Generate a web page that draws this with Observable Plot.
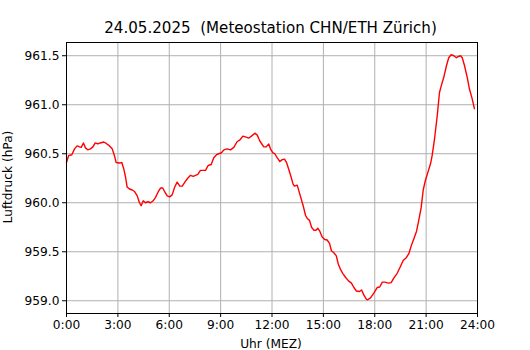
<!DOCTYPE html>
<html>
<head>
<meta charset="utf-8">
<script src="https://cdn.jsdelivr.net/npm/d3@7"></script>
<script src="https://cdn.jsdelivr.net/npm/@observablehq/plot@0.6"></script>
<style>
  html, body { margin: 0; padding: 0; background: white; }
  #wrap { position: relative; width: 530px; height: 350px; font-family: "DejaVu Sans", sans-serif; }
  #title { position: absolute; left: 0; top: 19px; width: 541px; text-align: center; font-size: 15.1px; color: #000; white-space: pre; }
  #ylabel { position: absolute; left: 8px; top: 177px; transform: translate(-50%, -50%) rotate(-90deg); font-size: 12.2px; white-space: nowrap; color: #000; }
  #xlabel { position: absolute; left: 271px; top: 344px; transform: translate(-50%, -50%); font-size: 12.2px; white-space: nowrap; color: #000; }
  svg { position: absolute; left: 0; top: 0; }
</style>
</head>
<body>
<div id="wrap">
  <div id="title">24.05.2025  (Meteostation CHN/ETH Zürich)</div>
  <div id="ylabel">Luftdruck (hPa)</div>
  <div id="xlabel">Uhr (MEZ)</div>
</div>
<script>
// Time of day in hours (MEZ)
const hours = [
  0.00, 0.12, 0.31, 0.47, 0.62, 0.76, 0.86, 0.99, 1.11, 1.24, 1.40, 1.54, 1.68, 1.83, 1.97,
  2.18, 2.32, 2.51, 2.67, 2.80, 2.90, 3.09, 3.23, 3.35, 3.45, 3.54, 3.68, 3.84, 3.97, 4.13,
  4.26, 4.36, 4.48, 4.61, 4.75, 4.91, 5.06, 5.20, 5.35, 5.49, 5.62, 5.74, 5.88, 6.03, 6.17,
  6.32, 6.46, 6.62, 6.76, 6.91, 7.08, 7.24, 7.40, 7.53, 7.67, 7.82, 7.98, 8.12, 8.27, 8.45,
  8.60, 8.76, 8.89, 9.05, 9.19, 9.38, 9.58, 9.77, 9.97, 10.12, 10.30, 10.49, 10.65, 10.80, 11.00,
  11.14, 11.29, 11.52, 11.66, 11.81, 11.91, 12.05, 12.16, 12.30, 12.46, 12.60, 12.73, 12.85, 12.98, 13.12,
  13.23, 13.31, 13.47, 13.62, 13.82, 13.96, 14.06, 14.19, 14.31, 14.44, 14.58, 14.67, 14.79, 14.93, 15.08,
  15.22, 15.36, 15.47, 15.61, 15.75, 15.87, 16.00, 16.13, 16.29, 16.48, 16.64, 16.78, 16.93, 17.11, 17.23,
  17.36, 17.52, 17.59, 17.75, 17.94, 18.14, 18.29, 18.44, 18.59, 18.79, 18.96, 19.11, 19.31, 19.50, 19.66,
  19.84, 19.99, 20.13, 20.28, 20.44, 20.57, 20.71, 20.83, 20.96, 21.12, 21.26, 21.35, 21.49, 21.65, 21.78,
  21.88, 22.03, 22.19, 22.32, 22.46, 22.62, 22.77, 22.87, 23.01, 23.11, 23.24, 23.40, 23.53, 23.69, 23.82
];
// Air pressure (hPa)
const pressure = [
  960.41, 960.48, 960.49, 960.55, 960.58, 960.57, 960.565, 960.61, 960.56, 960.54, 960.55, 960.57, 960.61, 960.60, 960.61,
  960.62, 960.605, 960.58, 960.55, 960.48, 960.41, 960.405, 960.41, 960.34, 960.26, 960.16, 960.14, 960.13, 960.115, 960.07,
  960.00, 959.97, 960.02, 960.00, 960.01, 960.00, 960.02, 960.055, 960.11, 960.15, 960.15, 960.11, 960.07, 960.06, 960.08,
  960.16, 960.21, 960.17, 960.17, 960.21, 960.25, 960.28, 960.27, 960.28, 960.29, 960.33, 960.33, 960.33, 960.38, 960.39,
  960.46, 960.49, 960.50, 960.51, 960.54, 960.55, 960.54, 960.565, 960.625, 960.64, 960.68, 960.67, 960.66, 960.68, 960.71,
  960.69, 960.63, 960.57, 960.57, 960.60, 960.55, 960.51, 960.50, 960.46, 960.42, 960.44, 960.445, 960.41, 960.34, 960.26,
  960.19, 960.17, 960.18, 960.09, 959.97, 959.87, 959.84, 959.82, 959.75, 959.72, 959.72, 959.74, 959.71, 959.65, 959.625,
  959.62, 959.585, 959.51, 959.49, 959.46, 959.375, 959.32, 959.28, 959.24, 959.20, 959.18, 959.135, 959.10, 959.095, 959.11,
  959.06, 959.015, 959.01, 959.03, 959.075, 959.135, 959.14, 959.19, 959.19, 959.18, 959.185, 959.23, 959.28, 959.35, 959.41,
  959.44, 959.48, 959.56, 959.63, 959.71, 959.82, 959.95, 960.13, 960.23, 960.32, 960.40, 960.48, 960.65, 960.89, 961.125,
  961.19, 961.28, 961.40, 961.48, 961.51, 961.50, 961.48, 961.49, 961.50, 961.48, 961.40, 961.28, 961.16, 961.06, 960.96
];
const xTicks = [0, 3, 6, 9, 12, 15, 18, 21, 24];
const xTickLabels = ["0:00", "3:00", "6:00", "9:00", "12:00", "15:00", "18:00", "21:00", "24:00"];
const yTicks = [959.0, 959.5, 960.0, 960.5, 961.0, 961.5];

const data = hours.map((h, i) => ({h, p: pressure[i]}));

const chart = Plot.plot({
  width: 530,
  height: 350,
  marginLeft: 66,
  marginRight: 53,
  marginTop: 42,
  marginBottom: 37,
  style: {fontFamily: "DejaVu Sans, sans-serif", fontSize: "12.2px", color: "#000", background: "transparent"},
  x: {domain: [0, 24]},
  y: {domain: [958.87, 961.635]},
  marks: [
    Plot.gridX(xTicks, {stroke: "#b0b0b0", strokeOpacity: 1, strokeWidth: 1}),
    Plot.gridY(yTicks, {stroke: "#b0b0b0", strokeOpacity: 1, strokeWidth: 1}),
    Plot.line(data, {x: "h", y: "p", stroke: "#ff0000", strokeWidth: 1.4}),
    Plot.frame({stroke: "#000", strokeWidth: 1}),
    Plot.axisX({ticks: xTicks, tickFormat: d => xTickLabels[xTicks.indexOf(d)], tickSize: 4, tickPadding: 3, label: null, fontSize: 12.2}),
    Plot.axisY({ticks: yTicks, tickFormat: d => d.toFixed(1), tickSize: 4, tickPadding: 3, label: null, fontSize: 12.2})
  ]
});
document.getElementById("wrap").prepend(chart);
</script>
</body>
</html>
